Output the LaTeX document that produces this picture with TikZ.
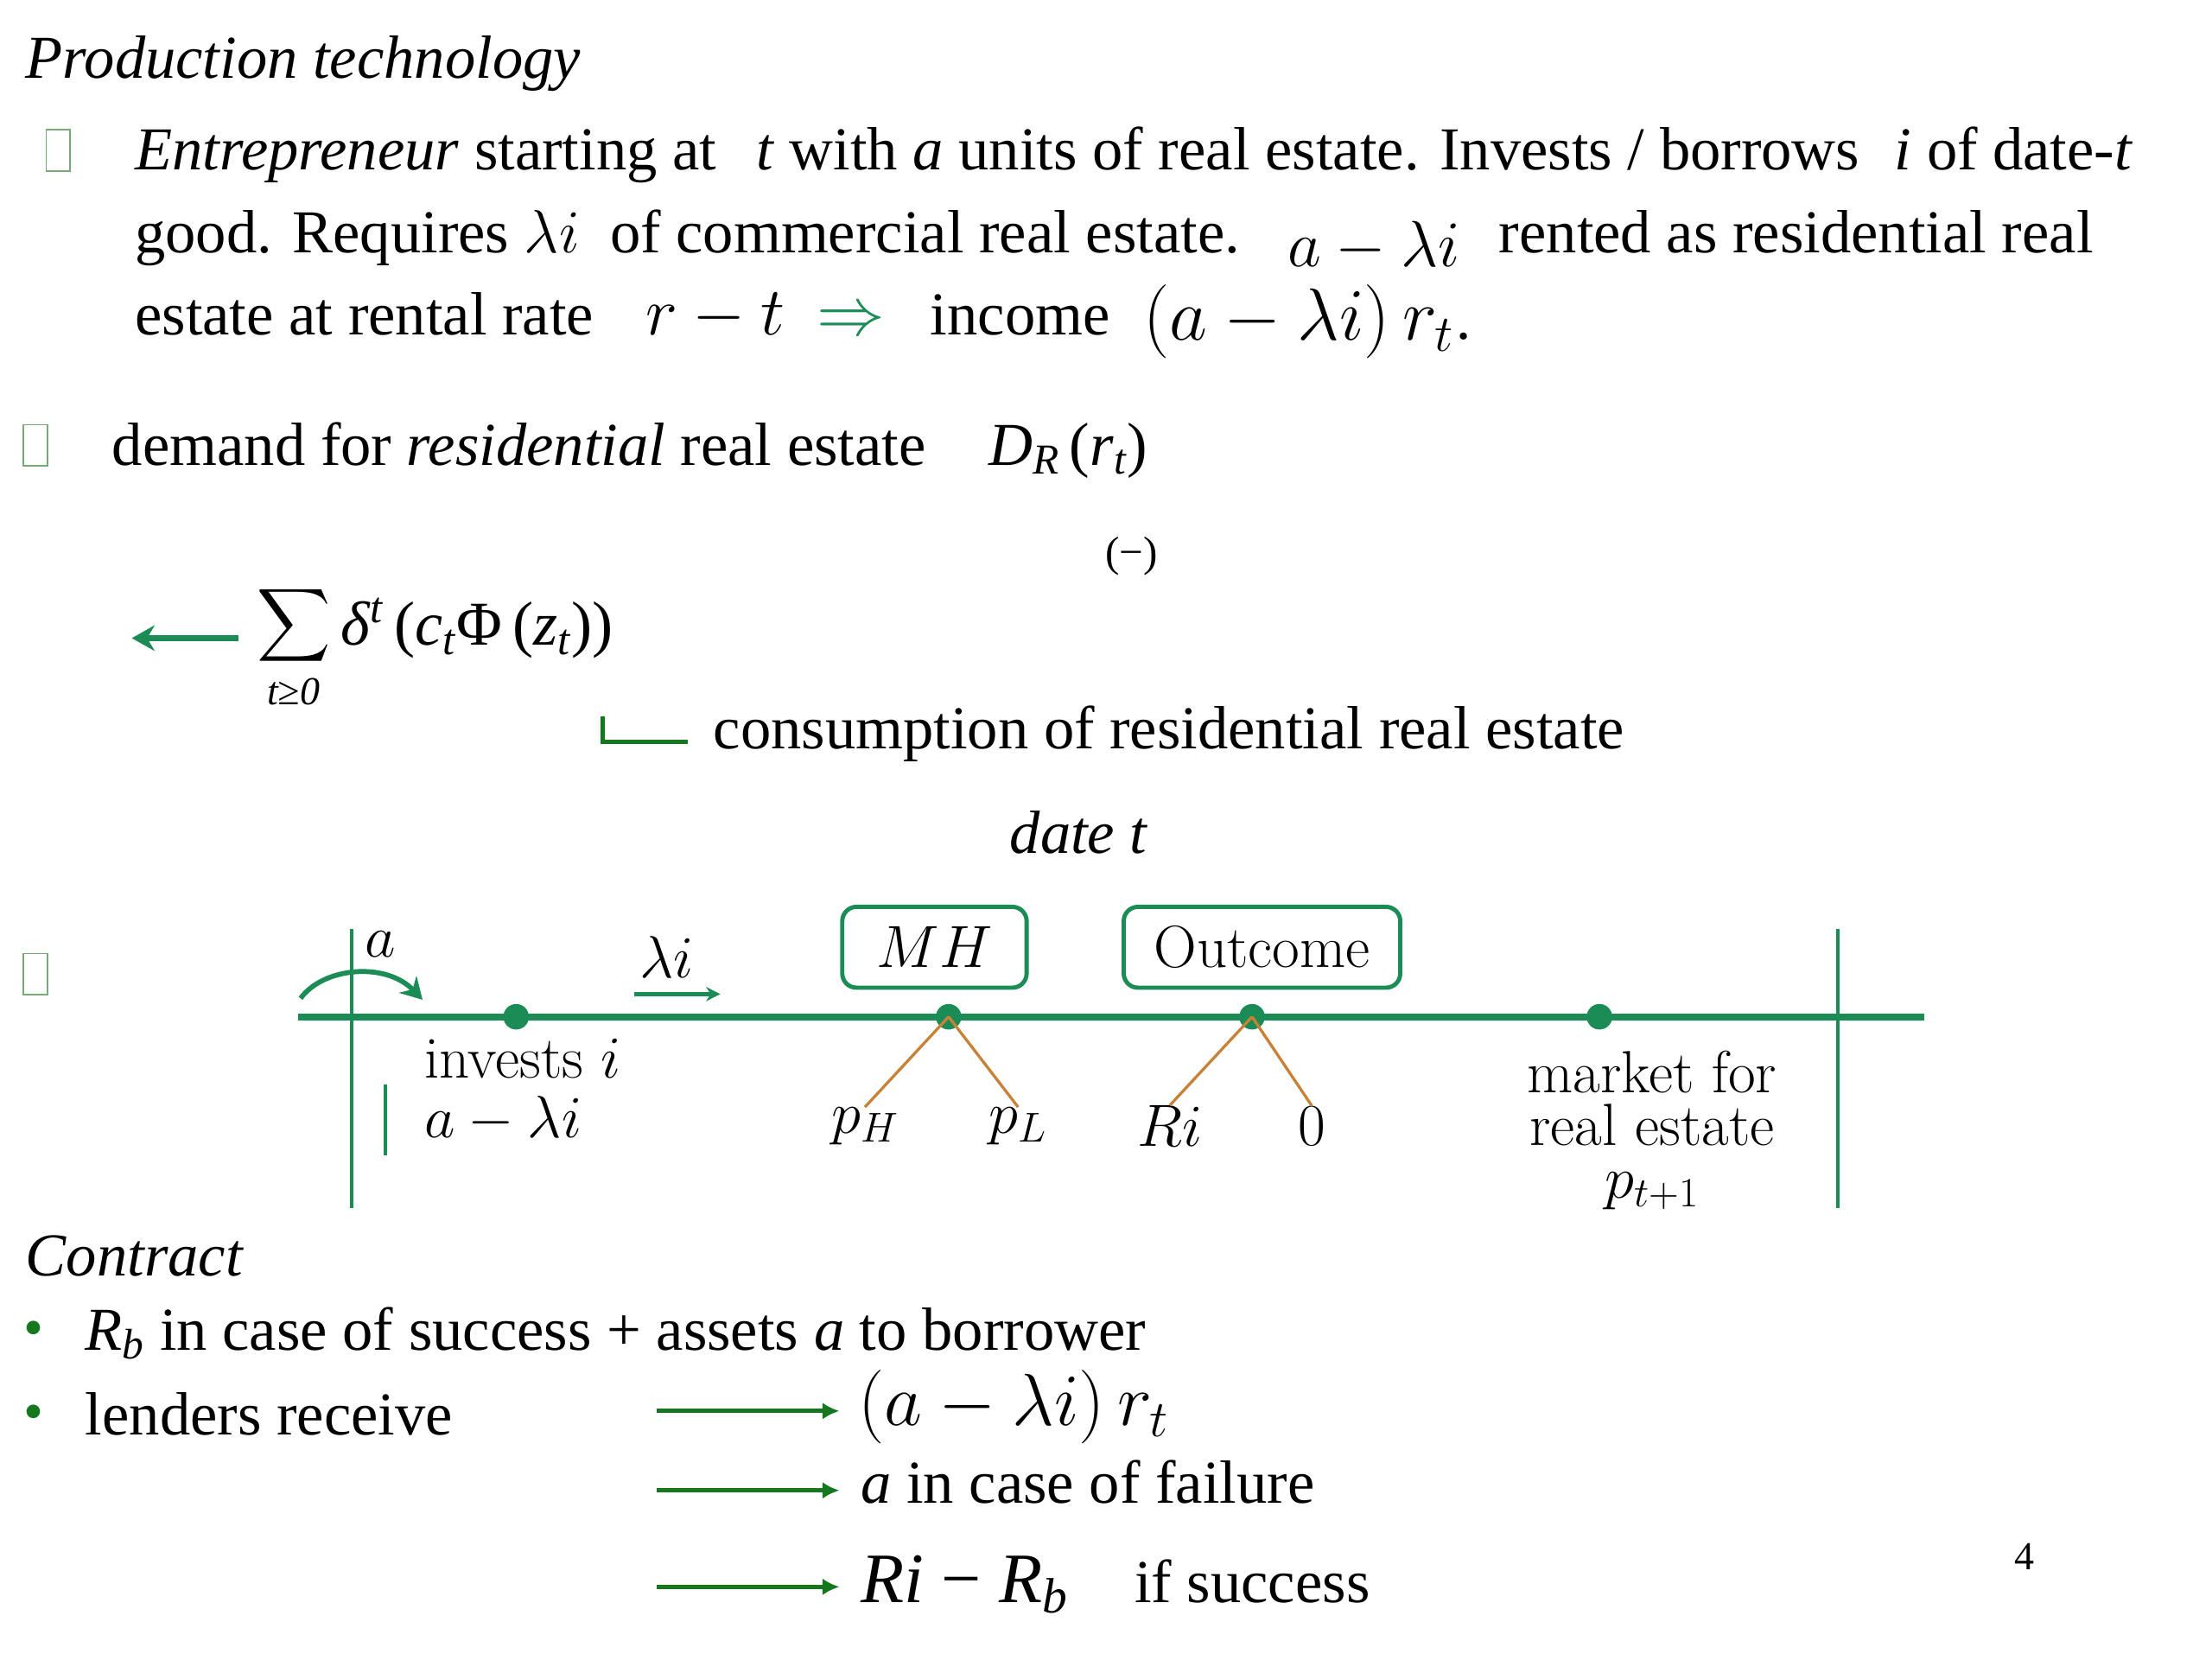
\documentclass[tikz,border=0pt]{standalone}
\usepackage{fix-cm}
\usepackage[no-math]{fontspec}
\setmainfont{Liberation Serif}
\newfontfamily\lmr{Latin Modern Roman}
\usetikzlibrary{arrows.meta}
\definecolor{tg}{RGB}{27,140,85}
\definecolor{dg}{RGB}{22,120,30}
\definecolor{br}{RGB}{200,130,55}
\definecolor{tofuc}{RGB}{120,170,120}
\newcommand\fs[1]{\fontsize{#1}{#1}\selectfont}
\begin{document}
\begin{tikzpicture}[x=1pt,y=-1pt,
  txt/.style={anchor=base west,inner sep=0pt,font=\fs{43}},
  tl/.style={inner sep=0pt,font=\fs{42}\lmr},
  tofu/.style={draw=tofuc,line width=1pt,minimum width=17pt,minimum height=29pt,inner sep=0pt},
  dotn/.style={circle,fill=tg,minimum size=18pt,inner sep=0pt},
  tbox/.style={draw=tg,line width=3pt,rounded corners=10pt,minimum height=57pt,inner sep=0pt,font=\fs{42}\lmr},
  branch/.style={br,line width=2pt},
  carrow/.style={dg,line width=3pt,-{Latex[length=12pt,width=12pt]}}]
\useasboundingbox[fill=white] (0,0) rectangle (1560,1170);

% --- Production technology
\node[txt,font=\fs{43}\itshape] (title) at (18,55) {Production technology};
\node[tofu] (b1) at (41,106) {};
\node[txt] (l1a) at (95,120) {\textit{Entrepreneur} starting at};
\node[txt] (l1b) at (533,120) {\textit{t} with \textit{a} units of real estate. Invests / borrows};
\node[txt] (l1c) at (1336,120) {\textit{i} of date-\textit{t}};
\node[txt] (l2a) at (95,178) {good. Requires $\lambda i$\ \ of commercial real estate.};
\node[txt,font=\fs{46}] (l2b) at (908,188) {$a-\lambda i$};
\node[txt] (l2c) at (1057,178) {rented as residential real};
\node[txt] (l3a) at (95,236) {estate at rental rate};
\node[txt,font=\fs{48}] (l3b) at (455,236) {$r-t$};
\node[txt,text=tg,font=\fs{48}] (l3c) at (576,236) {$\Rightarrow$};
\node[txt] (l3d) at (656,236) {income};
\node[txt,font=\fs{52}] (l3e) at (806,240) {$(a-\lambda i)\,r_t.$};

% --- demand
\node[tofu] (b2) at (25,314) {};
\node[txt] (dm1) at (79,328) {demand for \textit{residential} real estate};
\node[txt] (dm2) at (697,328) {\textit{D}\textsubscript{\textit{R}}\,(\textit{r}\textsubscript{\textit{t}})};
\node[font=\fs{30}] (neg) at (798,392) {(−)};

% --- sum
\node[inner sep=0pt] (sig) at (207,441) {\scalebox{3.6}{$\displaystyle\sum$}};
\node[font=\fs{28}\itshape,anchor=base,inner sep=0pt] (sub) at (207,497) {t≥0};
\node[txt,font=\fs{44}] (sumexpr) at (240,455) {\textit{δ}\textsuperscript{\textit{t}}\,(\textit{c}\textsubscript{\textit{t}}Φ\,(\textit{z}\textsubscript{\textit{t}}))};
\coordinate (sa) at (168,450);
\coordinate (sb) at (93,450);
\draw[tg,line width=4pt,-{Stealth[length=16pt,width=18pt]}] (sa) -- (sb);

% --- consumption
\coordinate (la) at (425,505);
\coordinate (lb) at (485,523);
\draw[dg,line width=3pt] (la) |- (lb);
\node[txt] (cons) at (503,528) {consumption of residential real estate};
\node[txt,font=\fs{43}\itshape] (date) at (712,602) {date t};

% --- timeline
\node[tofu] (b3) at (25,687) {};
\coordinate (tlL) at (210,717);
\coordinate (tlR) at (1357,717);
\coordinate (v1a) at (248,655);
\coordinate (v1b) at (248,852);
\coordinate (v2a) at (1296,655);
\coordinate (v2b) at (1296,852);
\draw[tg,line width=2.5pt] (v1a) -- (v1b);
\draw[tg,line width=2.5pt] (v2a) -- (v2b);
\draw[tg,line width=5pt] (tlL) -- (tlR);
\node[dotn] (p1) at (364,717) {};
\node[dotn] (p2) at (669,717) {};
\node[dotn] (p3) at (883,717) {};
\node[dotn] (p4) at (1128,717) {};

\coordinate (ca1) at (212,704);
\coordinate (ca2) at (298,705);
\draw[tg,line width=3.5pt,-{Stealth[length=15pt,width=17pt]}] (ca1) .. controls (228,682) and (272,678) .. (ca2);
\node[tl] (alab) at (268,666) {$a$};
\node[tl] (lam) at (470,675) {$\lambda i$};
\coordinate (la1) at (447,701);
\coordinate (la2) at (508,701);
\draw[tg,line width=3pt,-{Stealth[length=10pt,width=10pt]}] (la1) -- (la2);

\node[tbox,minimum width=130pt] (mh) at (659,668) {$MH$};
\node[tbox,minimum width=195pt] (outc) at (890,668) {Outcome};

\node[tl] (ph) at (610,794) {$p_H$};
\node[tl] (pl) at (718,794) {$p_L$};
\node[tl] (ri) at (825,794) {$Ri$};
\node[tl] (zero) at (925,794) {0};
\draw[branch] (p2.center) -- (ph.north);
\draw[branch] (p2.center) -- (pl.north);
\draw[branch] (p3.center) -- (ri.north);
\draw[branch] (p3.center) -- (zero.north);

\node[tl,anchor=base west] (inv) at (299,760) {invests $i$};
\node[tl,anchor=base west] (aml) at (299,802) {$a-\lambda i$};
\coordinate (sv1) at (272,765);
\coordinate (sv2) at (272,815);
\draw[tg,line width=2.5pt] (sv1) -- (sv2);
\node[tl,align=center,font=\fontsize{42}{37}\lmr] (mkt) at (1165,797) {market for\\real estate\\$p_{t+1}$};

% --- contract
\node[txt,font=\fs{43}\itshape] (con) at (18,900) {Contract};
\node[font=\fs{40},text=dg,anchor=base,inner sep=0pt] (bu1) at (24,950) {•};
\node[font=\fs{40},text=dg,anchor=base,inner sep=0pt] (bu2) at (24,1009) {•};
\node[txt] (c1) at (60,952) {\textit{R}\textsubscript{\textit{b}} in case of success + assets \textit{a} to borrower};
\node[txt] (c2) at (60,1012) {lenders receive};
\coordinate (a1s) at (463,995);
\coordinate (a1e) at (592,995);
\coordinate (a2s) at (463,1051);
\coordinate (a2e) at (592,1051);
\coordinate (a3s) at (463,1119);
\coordinate (a3e) at (592,1119);
\draw[carrow] (a1s) -- (a1e);
\draw[carrow] (a2s) -- (a2e);
\draw[carrow] (a3s) -- (a3e);
\node[txt,font=\fs{52}] (r1) at (605,1005) {$(a-\lambda i)\,r_t$};
\node[txt] (r2) at (607,1060) {\textit{a} in case of failure};
\node[txt,font=\fs{50}] (r3a) at (607,1130) {\textit{Ri} − \textit{R}\textsubscript{\textit{b}}};
\node[txt] (r3b) at (800,1130) {if success};
\node[font=\fs{28}] (pg) at (1428,1098) {4};
\end{tikzpicture}
\end{document}
